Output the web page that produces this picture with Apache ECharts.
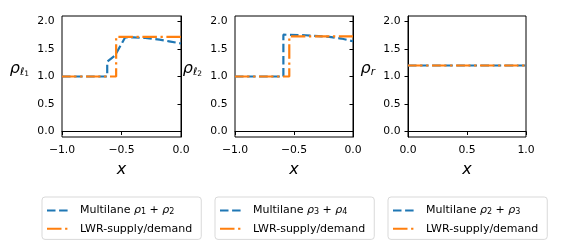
<!DOCTYPE html>
<html><head><meta charset="utf-8">
<script src="https://cdn.jsdelivr.net/npm/echarts@6/dist/echarts.min.js"></script>
<style>html,body{margin:0;padding:0;background:#fff}#c{width:569px;height:248px}</style>
</head><body><div id="c"></div>
<script>
// ---- data ----
const p1BlueX = [-1, -0.62, -0.62, -0.555, -0.47, -0.4, -0.3, -0.18, -0.1, 0];
const p1BlueY = [1.0, 1.0, 1.27, 1.38, 1.71, 1.71, 1.70, 1.67, 1.64, 1.60];
const p1OrangeX = [-1, -0.545, -0.545, 0];
const p1OrangeY = [1.0, 1.0, 1.72, 1.72];
const p2BlueX = [-1, -0.59, -0.59, -0.4, -0.2, -0.1, 0];
const p2BlueY = [1.0, 1.0, 1.76, 1.75, 1.72, 1.69, 1.64];
const p2OrangeX = [-1, -0.54, -0.54, 0];
const p2OrangeY = [1.0, 1.0, 1.73, 1.73];
const p3BlueX = [0, 1];
const p3BlueY = [1.2, 1.2];
const p3OrangeX = [0, 1];
const p3OrangeY = [1.2, 1.2];
const yTicks = [0, 0.5, 1.0, 1.5, 2.0];
const xTicksLeft = [-1, -0.5, 0];
const xTicksRight = [0, 0.5, 1];
const xRanges = [[-1, 0], [-1, 0], [0, 1]];
const yRange = [-0.1, 2.1];
const yNames = ['{r|ρ}{s|ℓ}{ss|1}', '{r|ρ}{s|ℓ}{ss|2}', '{r|ρ}{s|r}'];
const legendBlue = [['1', '2'], ['3', '4'], ['2', '3']];
const lwrLabel = 'LWR-supply/demand';

const BLUE = '#1f77b4', ORANGE = '#ff7f0e';
const FONT = '"DejaVu Sans", sans-serif';
const zip = (a, b) => a.map((v, i) => [v, b[i]]);

const grids = [
  {left: 62, top: 16, width: 119, height: 121},
  {left: 235, top: 16, width: 118, height: 121},
  {left: 408, top: 16, width: 118, height: 121}
].map(g => Object.assign(g, {show: true, borderColor: '#000', borderWidth: 1, backgroundColor: 'transparent'}));

const fmt = v => (Math.abs(v) < 1e-9 ? '0.0' : (v < 0 ? '\u2212' + Math.abs(v).toFixed(1) : v.toFixed(1)));

const xAxes = xRanges.map((r, i) => ({
  type: 'value', gridIndex: i, min: r[0], max: r[1],
  splitLine: {show: false},
  axisLine: {show: true, lineStyle: {color: '#000', width: 1}},
  axisTick: {show: true, length: 3.5, lineStyle: {color: '#000'}, customValues: i < 2 ? xTicksLeft : xTicksRight},
  axisLabel: {color: '#000', fontFamily: FONT, fontSize: 10.8, margin: 7.5, customValues: i < 2 ? xTicksLeft : xTicksRight, formatter: fmt},
  name: 'x', nameLocation: 'middle', nameGap: 25,
  nameTextStyle: {fontFamily: FONT, fontSize: 16, fontStyle: 'italic', color: '#000'}
}));

const yAxes = yNames.map((n, i) => ({
  type: 'value', gridIndex: i, min: yRange[0], max: yRange[1],
  splitLine: {show: false},
  axisLine: {show: true, lineStyle: {color: '#000', width: 1}},
  axisTick: {show: true, length: 3.5, lineStyle: {color: '#000'}, customValues: yTicks},
  axisLabel: {color: '#000', fontFamily: FONT, fontSize: 10.8, margin: 7.5, customValues: yTicks, formatter: v => v.toFixed(1)},
  name: n, nameLocation: 'middle', nameRotate: 0, nameGap: 33,
  nameTextStyle: {
    color: '#000', padding: [0, 0, 16, 0],
    rich: {
      r: {fontFamily: FONT, fontSize: 16, fontStyle: 'italic', color: '#000', lineHeight: 19, verticalAlign: 'middle'},
      s: {fontFamily: FONT, fontSize: 10.5, fontStyle: 'italic', color: '#000', lineHeight: 10, verticalAlign: 'bottom'},
      ss: {fontFamily: FONT, fontSize: 7.5, color: '#000', lineHeight: 6, verticalAlign: 'bottom'}
    }
  }
}));

const blueDash = [8.5, 3.6];
const orangeDash = [14.5, 3.6, 2.3, 3.6];
const series = [];
const bx = [p1BlueX, p2BlueX, p3BlueX], by = [p1BlueY, p2BlueY, p3BlueY];
const ox = [p1OrangeX, p2OrangeX, p3OrangeX], oy = [p1OrangeY, p2OrangeY, p3OrangeY];
for (let i = 0; i < 3; i++) {
  series.push({name: 'M' + i, type: 'line', xAxisIndex: i, yAxisIndex: i, data: zip(bx[i], by[i]),
    symbol: 'none', color: BLUE, lineStyle: {color: BLUE, width: 2.2, type: blueDash}, z: 2});
  series.push({name: 'L' + i, type: 'line', xAxisIndex: i, yAxisIndex: i, data: zip(ox[i], oy[i]),
    symbol: 'none', color: ORANGE, lineStyle: {color: ORANGE, width: 2.2, type: orangeDash}, z: 3});
}

const legLefts = [42, 215, 388];
const legends = legLefts.map((l, i) => ({
  orient: 'vertical', left: l, top: 197,
  data: ['M' + i, 'L' + i],
  itemWidth: 21, itemHeight: 14, itemGap: 7,
  padding: [8, 9, 5, 4],
  borderColor: '#d9d9d9', borderWidth: 1, borderRadius: 3,
  selectedMode: false,
  itemStyle: {opacity: 0},
  formatter: name => name[0] === 'M'
    ? 'Multilane {g|ρ}{s|' + legendBlue[i][0] + '} + {g|ρ}{s|' + legendBlue[i][1] + '}'
    : lwrLabel,
  textStyle: {
    fontFamily: FONT, fontSize: 11, color: '#000', padding: [0, 0, 0, 7],
    rich: {
      g: {fontFamily: FONT, fontSize: 11, fontStyle: 'italic', color: '#000'},
      s: {fontFamily: FONT, fontSize: 8, color: '#000', verticalAlign: 'bottom', lineHeight: 8}
    }
  }
}));

const chart = echarts.init(document.getElementById('c'), null, {renderer: 'canvas'});
chart.setOption({
  animation: false,
  backgroundColor: '#fff',
  grid: grids, xAxis: xAxes, yAxis: yAxes, series: series, legend: legends
});
</script></body></html>
